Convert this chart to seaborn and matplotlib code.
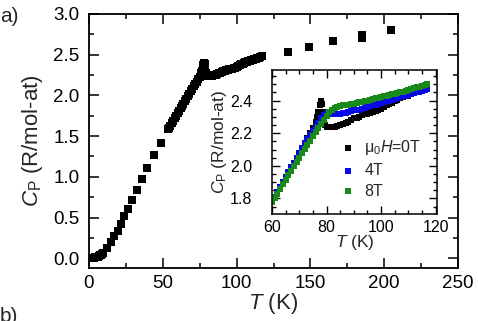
import matplotlib
matplotlib.use("Agg")
import matplotlib.pyplot as plt
from matplotlib.ticker import MultipleLocator
import seaborn as sns
import pandas as pd

# ---------------- data ----------------
# field-dependence inset, T in K, Cp in R/mol-at
T_in = [60, 61, 62, 63, 64, 65, 66, 67, 68, 69, 70, 71, 72, 73, 74, 75, 76, 76.5, 77, 77.5,
        78, 78.3, 78.6, 79, 79.5, 80, 81, 82, 83, 84, 85, 86, 87, 88, 89, 90, 91, 92, 93, 94,
        95, 96, 97, 98, 99, 100, 101, 102, 103, 104, 105, 106, 107, 108, 109, 110, 111, 112,
        113, 114, 115, 116, 117]
cp_0T = [1.78, 1.81, 1.84, 1.87, 1.90, 1.93, 1.96, 1.99, 2.02, 2.05, 2.08, 2.11, 2.14, 2.17,
         2.20, 2.23, 2.27, 2.30, 2.33, 2.37, 2.40, 2.38, 2.33, 2.28, 2.25, 2.24, 2.235, 2.24,
         2.24, 2.245, 2.25, 2.255, 2.26, 2.27, 2.28, 2.29, 2.295, 2.30, 2.31, 2.315, 2.32,
         2.325, 2.33, 2.335, 2.34, 2.35, 2.36, 2.37, 2.38, 2.385, 2.395, 2.405, 2.415, 2.42,
         2.425, 2.43, 2.44, 2.445, 2.45, 2.46, 2.465, 2.47, 2.48]

T_4T = [60, 61, 62, 63, 64, 65, 66, 67, 68, 69, 70, 71, 72, 73, 74, 75, 76, 77, 78, 79, 80,
        81, 82, 83, 84, 85, 86, 87, 88, 89, 90, 91, 92, 93, 94, 95, 96, 97, 98, 99, 100, 101,
        102, 103, 104, 105, 106, 107, 108, 109, 110, 111, 112, 113, 114, 115, 116, 117]
cp_4T = [1.78, 1.81, 1.84, 1.87, 1.90, 1.93, 1.96, 1.99, 2.02, 2.05, 2.08, 2.11, 2.14, 2.165,
         2.19, 2.215, 2.24, 2.265, 2.29, 2.31, 2.325, 2.32, 2.315, 2.315, 2.32, 2.32, 2.325,
         2.325, 2.33, 2.335, 2.34, 2.34, 2.345, 2.35, 2.355, 2.36, 2.365, 2.37, 2.375, 2.38,
         2.385, 2.39, 2.395, 2.40, 2.405, 2.41, 2.415, 2.42, 2.425, 2.43, 2.435, 2.44, 2.445,
         2.45, 2.455, 2.46, 2.465, 2.47]

T_8T = T_4T
cp_8T = [1.78, 1.805, 1.83, 1.86, 1.89, 1.915, 1.945, 1.97, 2.00, 2.025, 2.05, 2.08, 2.105,
         2.13, 2.155, 2.18, 2.205, 2.23, 2.255, 2.28, 2.305, 2.33, 2.345, 2.355, 2.36, 2.365,
         2.37, 2.372, 2.375, 2.378, 2.38, 2.385, 2.39, 2.393, 2.397, 2.40, 2.405, 2.41, 2.415,
         2.418, 2.42, 2.425, 2.43, 2.433, 2.437, 2.44, 2.445, 2.45, 2.455, 2.46, 2.465, 2.47,
         2.475, 2.48, 2.485, 2.49, 2.495, 2.50]

# zero-field main curve: low-T part, part below 60 K, high-T part
T_low = [0.5, 1, 1.5, 2, 2.5, 3, 3.5, 4, 4.5, 5, 5.5, 6, 6.5, 7, 7.5, 8, 8.5, 9, 9.7,
         12, 14.9, 17.1, 19.4, 21.7, 24, 26.2, 28.9, 32.3, 35.7, 39, 44, 48.8,
         53.5, 54, 55, 56, 57, 58, 59]
cp_low = [0.0, 0.0, 0.0, 0.0, 0.003, 0.005, 0.008, 0.01, 0.012, 0.015, 0.018, 0.02, 0.025,
          0.03, 0.035, 0.04, 0.047, 0.055, 0.07,
          0.13, 0.20, 0.27, 0.34, 0.42, 0.52, 0.60, 0.72, 0.84, 0.97, 1.11, 1.27, 1.42,
          1.59, 1.60, 1.63, 1.66, 1.69, 1.72, 1.75]
T_high = [134.6, 149, 165, 185, 185, 204.6]
cp_high = [2.53, 2.60, 2.67, 2.70, 2.74, 2.80]

main_x = T_low + T_in + T_high
main_y = cp_low + cp_0T + cp_high

labels_in = ["μ$_0$$H$=0T", "4T", "8T"]
colors_in = ["#000000", "#0a0ae8", "#178a17"]

# ---------------- style ----------------
sns.set_style("ticks")
plt.rcParams["font.family"] = ["Liberation Sans", "DejaVu Sans"]
plt.rcParams["mathtext.fontset"] = "custom"
plt.rcParams["mathtext.rm"] = "Liberation Sans"
plt.rcParams["mathtext.it"] = "Liberation Sans:italic"
plt.rcParams["mathtext.sf"] = "Liberation Sans"

fig = plt.figure(figsize=(4.78, 3.21), dpi=100)
W, H = 478.0, 321.0

def fbox(l, t, r, b):
    return [l / W, 1 - b / H, (r - l) / W, (b - t) / H]

ax = fig.add_axes(fbox(89, 14, 458, 268))
sns.scatterplot(x=main_x, y=main_y, ax=ax, marker="s", s=30, color="black",
                linewidth=0, legend=False)
ax.set_xlim(0, 250)
ax.set_ylim(-0.12, 3.0)
ax.xaxis.set_major_locator(MultipleLocator(50))
ax.xaxis.set_minor_locator(MultipleLocator(25))
ax.yaxis.set_major_locator(MultipleLocator(0.5))
ax.yaxis.set_minor_locator(MultipleLocator(0.25))
ax.tick_params(which="both", direction="in", top=True, right=True, width=1.1, colors="black",
               labelsize=13.5)
ax.tick_params(which="major", length=7)
ax.tick_params(which="minor", length=3.6)
ax.tick_params(axis="y", pad=7)
ax.tick_params(axis="x", pad=5)
for sp in ax.spines.values():
    sp.set_linewidth(1.3)
    sp.set_color("black")
ax.set_xlabel(r"$T$ (K)", fontsize=16, labelpad=-1)
ax.set_ylabel(r"$C_\mathrm{P}$ (R/mol-at)", fontsize=16, labelpad=6)

# inset
axi = fig.add_axes(fbox(272, 69.5, 437, 214))
axi.set_facecolor("white")
for tx, cy, lab, col in zip([T_in, T_4T, T_8T], [cp_0T, cp_4T, cp_8T], labels_in, colors_in):
    sns.scatterplot(x=tx, y=cy, ax=axi, marker="s", s=18, color=col, linewidth=0, label=lab)
axi.set_xlim(60, 120.5)
axi.set_ylim(1.705, 2.59)
axi.xaxis.set_major_locator(MultipleLocator(20))
axi.xaxis.set_minor_locator(MultipleLocator(5))
axi.yaxis.set_major_locator(MultipleLocator(0.2))
axi.yaxis.set_minor_locator(MultipleLocator(0.05))
axi.tick_params(which="both", direction="in", top=True, right=True, width=1.0, colors="black",
                labelsize=11.5)
axi.tick_params(which="major", length=5.5)
axi.tick_params(which="minor", length=3)
axi.tick_params(axis="y", pad=14)
axi.tick_params(axis="x", pad=4)
for sp in axi.spines.values():
    sp.set_linewidth(1.1)
    sp.set_color("black")
axi.set_xlabel(r"$T$ (K)", fontsize=12.5, labelpad=-1)
axi.set_ylabel(r"$C_\mathrm{P}$ (R/mol-at)", fontsize=12.5, labelpad=1)
leg = axi.legend(loc="center left", bbox_to_anchor=(342 / W, 1 - 168.5 / H),
                 bbox_transform=fig.transFigure, frameon=False, fontsize=11.5,
                 handlelength=0.7, handletextpad=0.7, labelspacing=0.35, borderpad=0,
                 borderaxespad=0, markerscale=1.0)

fig.text(0 / W, 1 - 17 / H, "a)", fontsize=15, ha="left", va="center")
fig.text(0 / W, 1 - 307 / H, "b)", fontsize=15, ha="left", va="top")

fig.savefig("out.png", dpi=100)
